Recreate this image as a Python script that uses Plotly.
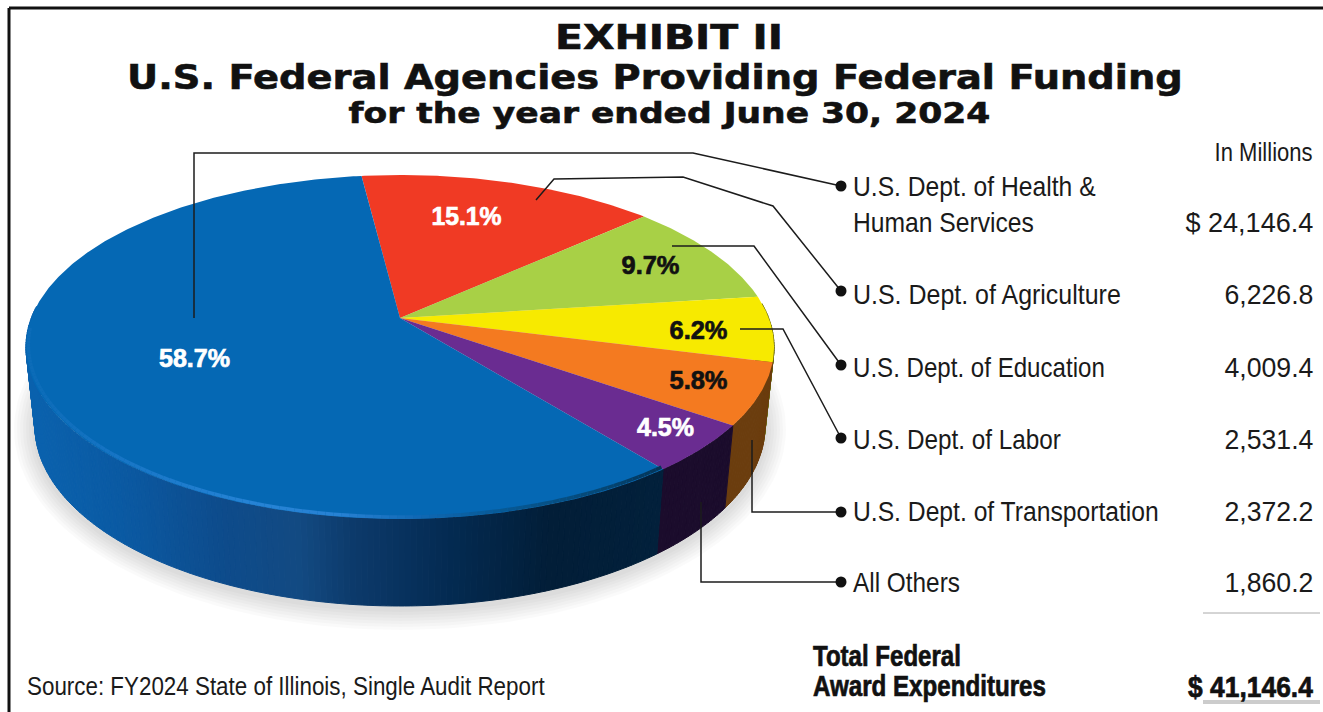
import json
import numpy as np
import plotly.graph_objects as go

# Agency funding, in millions of dollars
agencies = [
    "U.S. Dept. of Health &<br>Human Services",
    "U.S. Dept. of Agriculture",
    "U.S. Dept. of Education",
    "U.S. Dept. of Labor",
    "U.S. Dept. of Transportation",
    "All Others",
]
amounts = [24146.4, 6226.8, 4009.4, 2531.4, 2372.2, 1860.2]
total_label = "41,146.4"

# Colours per agency, and the order of the wedges clockwise from the top of the pie
top_colors = ["#0568b4", "#f03a24", "#a8d046", "#f7ea00", "#f47a20", "#6a2c91"]
wedge_order = [1, 2, 3, 4, 5, 0]
side_colors = {3: "#6a6a10", 4: "#6b3d0e", 5: "#1b0c2c"}

# Perspective disc: apex of the wedges sits above the centre of the ellipse
APEX_X, APEX_Y = 400.0, 318.0
SCALE_X, SCALE_Y, TILT = 368.7, 167.1, -0.1686
ELL_X, ELL_Y, ELL_RX, ELL_RY = 400.0, 347.0, 374.0, 172.0
BASE_Y, BASE_RX, BASE_RY = 426.0, 365.0, 180.0
START_DEG = -97.0

SANS = "Liberation Sans"
WIDE = "DejaVu Sans"
INK = "#1a1a1a"


def rim(deg):
    t = np.radians(np.asarray(deg, dtype=float))
    u, v = np.cos(t), np.sin(t)
    w = 1 + TILT * v
    return APEX_X + SCALE_X * u / w, APEX_Y + SCALE_Y * v / w


def base(deg):
    x, y = rim(deg)
    return (ELL_X + (x - ELL_X) / ELL_RX * BASE_RX,
            BASE_Y + (y - ELL_Y) / ELL_RY * BASE_RY)


def blue_side_color(x):
    stops = [30, 120, 220, 300, 350, 450, 550, 680]
    r = [10, 11, 14, 19, 13, 4, 2, 2]
    g = [98, 90, 76, 74, 59, 43, 30, 33]
    b = [174, 163, 140, 130, 108, 82, 56, 60]
    return "rgb(%d,%d,%d)" % (np.interp(x, stops, r), np.interp(x, stops, g), np.interp(x, stops, b))


def rim_color(x):
    stops = [26, 120, 250, 340, 420, 500, 600, 672]
    r = [12, 24, 38, 40, 16, 8, 6, 4]
    g = [108, 118, 132, 130, 104, 90, 72, 50]
    b = [184, 198, 214, 212, 180, 150, 118, 84]
    return "rgb(%d,%d,%d)" % (np.interp(x, stops, r), np.interp(x, stops, g), np.interp(x, stops, b))


def poly(x, y, color):
    return go.Scatter(x=x, y=y, mode="lines", fill="toself", fillcolor=color,
                      line=dict(color=color, width=1), hoverinfo="skip", showlegend=False)


total = sum(amounts)
edges = {}
angle = START_DEG
for idx in wedge_order:
    sweep = amounts[idx] / total * 360
    edges[idx] = (angle, angle + sweep)
    angle += sweep

traces = []

# Soft shadow beneath the disc
sweep_all = np.linspace(0, 360, 181)
for spread in range(21, 0, -3):
    bx, by = base(sweep_all)
    sx = ELL_X + (bx - ELL_X) * (1 + spread / BASE_RX)
    sy = BASE_Y + 3 + (by - BASE_Y) * (1 + spread / BASE_RY)
    traces.append(go.Scatter(x=sx, y=sy, mode="lines", fill="toself",
                             fillcolor="rgba(0,0,0,0.02)", line=dict(width=0),
                             hoverinfo="skip", showlegend=False))

# Outer wall of the disc, one thin strip at a time for the shading
for idx in wedge_order:
    a0, a1 = edges[idx]
    a0, a1 = max(a0, -5), min(a1, 184)
    if a1 <= a0:
        continue
    steps = max(2, int((a1 - a0) / 0.8))
    cuts = np.linspace(a0, a1, steps + 1)
    for c0, c1 in zip(cuts[:-1], cuts[1:]):
        seg = np.array([c0, c1])
        tx, ty = rim(seg)
        bx, by = base(seg)
        xs = [tx[0], tx[1], bx[1], bx[0], tx[0]]
        ys = [ty[0], ty[1], by[1], by[0], ty[0]]
        color = blue_side_color(tx.mean()) if idx == 0 else side_colors[idx]
        traces.append(poly(xs, ys, color))

# Top face wedges
for idx in wedge_order:
    a0, a1 = edges[idx]
    arc = np.linspace(a0, a1, max(8, int(a1 - a0) * 2))
    ax, ay = rim(arc)
    xs = np.concatenate([[APEX_X], ax, [APEX_X]])
    ys = np.concatenate([[APEX_Y], ay, [APEX_Y]])
    traces.append(go.Scatter(x=xs, y=ys, mode="lines", fill="toself",
                             fillcolor=top_colors[idx], line=dict(width=0),
                             hoverinfo="skip", showlegend=False))

# Bevel highlight along the front edge of the large wedge, kept inside the top face
a0, a1 = edges[0]
cuts = np.linspace(a0, 176, 120)
for c0, c1 in zip(cuts[:-1], cuts[1:]):
    seg = np.array([c0, c1])
    tx, ty = rim(seg)
    inset = 1 - 2.5 / ELL_RX
    traces.append(go.Scatter(x=ELL_X + (tx - ELL_X) * inset, y=ty - 2, mode="lines",
                             line=dict(color=rim_color(tx.mean()), width=3.5),
                             hoverinfo="skip", showlegend=False))

# Leader lines running from the wedges to the legend rows
leaders = [
    ([194, 194, 693, 841], [318, 153, 153, 186]),
    ([536, 554, 683, 773, 841], [200, 179, 177, 206, 291]),
    ([672, 754, 841], [246, 246, 365]),
    ([740, 783, 841], [329, 329, 438]),
    ([752, 752, 841], [440, 512, 512]),
    ([701, 701, 841], [502, 582, 582]),
]
for xs, ys in leaders:
    traces.append(go.Scatter(x=xs, y=ys, mode="lines", line=dict(color="#1c1c1c", width=1.5),
                             hoverinfo="skip", showlegend=False))
    traces.append(go.Scatter(x=[xs[-1]], y=[ys[-1]], mode="markers",
                             marker=dict(color="#111111", size=11),
                             hoverinfo="skip", showlegend=False))

fig = go.Figure(traces)
text_fit = []


def text(x, y, s, size, anchor, fit, family=SANS, color=INK, weight="normal", stroke=0):
    """Place a label and record its fitted width and any extra stroke weight."""
    fig.add_annotation(x=x, y=y, text=s, xref="x", yref="y", showarrow=False,
                       xanchor=anchor, yanchor="middle", align=anchor, borderpad=0, borderwidth=0,
                       font=dict(family=family, size=size, color=color, weight=weight))
    text_fit.append([fit, anchor, color, stroke])


# Heading
text(669, 37, "EXHIBIT II", 33, "center", 228, WIDE, "#111111", "bold", 0.6)
text(655, 77, "U.S. Federal Agencies Providing Federal Funding", 33, "center", 1056, WIDE, "#111111", "bold", 0.6)
text(669, 113, "for the year ended June 30, 2024", 28, "center", 642, WIDE, "#111111", "bold", 0.6)

# Percentage labels, computed from the amounts
pct_pos = [(194, 358), (466, 216), (650, 265), (698, 330), (698, 380), (665, 427)]
pct_fit = [71, 70, 58, 58, 58, 57]
pct_color = ["#ffffff", "#ffffff", "#111111", "#111111", "#111111", "#ffffff"]
for amount, (px, py), pc, fit in zip(amounts, pct_pos, pct_color, pct_fit):
    text(px, py, f"{amount / total * 100:.1f}%", 25, "center", fit, SANS, pc, "bold", 0.7)

# Legend rows and amounts
NAME_X, AMOUNT_X = 853, 1313
row_y = [204, 294, 367, 439, 511, 582]
amount_y = [222, 294, 367, 439, 511, 582]
name_fit = [243, 268, 252, 208, 306, 107]
amount_fit = [128, 89, 89, 89, 89, 89]
for i, (name, amount) in enumerate(zip(agencies, amounts)):
    text(NAME_X, row_y[i], name, 28, "left", name_fit[i])
    prefix = "$ " if i == 0 else ""
    text(AMOUNT_X, amount_y[i], f"{prefix}{amount:,.1f}", 28, "right", amount_fit[i])

text(AMOUNT_X, 152, "In Millions", 26, "right", 98)
text(813, 656, "Total Federal", 29, "left", 148, SANS, "#111111", "bold", 0.7)
text(813, 686, "Award Expenditures", 29, "left", 233, SANS, "#111111", "bold", 0.7)
text(AMOUNT_X, 686, f"$ {total_label}", 30, "right", 125, SANS, "#111111", "bold", 0.7)
text(27, 686, "Source: FY2024 State of Illinois, Single Audit Report", 25, "left", 518)

# Frame on the top and left, total rules at the lower right
fig.add_shape(type="line", x0=9, x1=1323, y0=8, y1=8, line=dict(color="#111111", width=3))
fig.add_shape(type="line", x0=9, x1=9, y0=8, y1=712, line=dict(color="#111111", width=3))
fig.add_shape(type="line", x0=1203, x1=1320, y0=613, y1=613, line=dict(color="#aaaaaa", width=1))
fig.add_shape(type="line", x0=1203, x1=1320, y0=701, y1=701, line=dict(color="#999999", width=1))
fig.add_shape(type="line", x0=1203, x1=1320, y0=703, y1=703, line=dict(color="#999999", width=1))

fig.update_layout(
    width=1323, height=712, margin=dict(l=0, r=0, t=0, b=0),
    paper_bgcolor="white", plot_bgcolor="white", showlegend=False,
    xaxis=dict(range=[0, 1323], visible=False, fixedrange=True),
    yaxis=dict(range=[712, 0], visible=False, fixedrange=True),
)

# Horizontal glyph scaling stands in for the condensed and extended display faces
fit_script = """
var fits = %s;
document.querySelectorAll('.annotation').forEach(function (g) {
  var fit = fits[+g.getAttribute('data-index')];
  var el = g.querySelector('.annotation-text');
  if (!fit || !el) return;
  var w = el.getBBox().width;
  el.style.transformBox = 'fill-box';
  el.style.transformOrigin = fit[1] + ' center';
  el.style.transform = 'scaleX(' + (fit[0] / w) + ')';
  if (fit[3]) {
    el.style.stroke = fit[2];
    el.style.strokeWidth = fit[3] + 'px';
  }
});
""" % json.dumps(text_fit)
fig.write_html("out.html", config={"displayModeBar": False}, post_script=fit_script)
